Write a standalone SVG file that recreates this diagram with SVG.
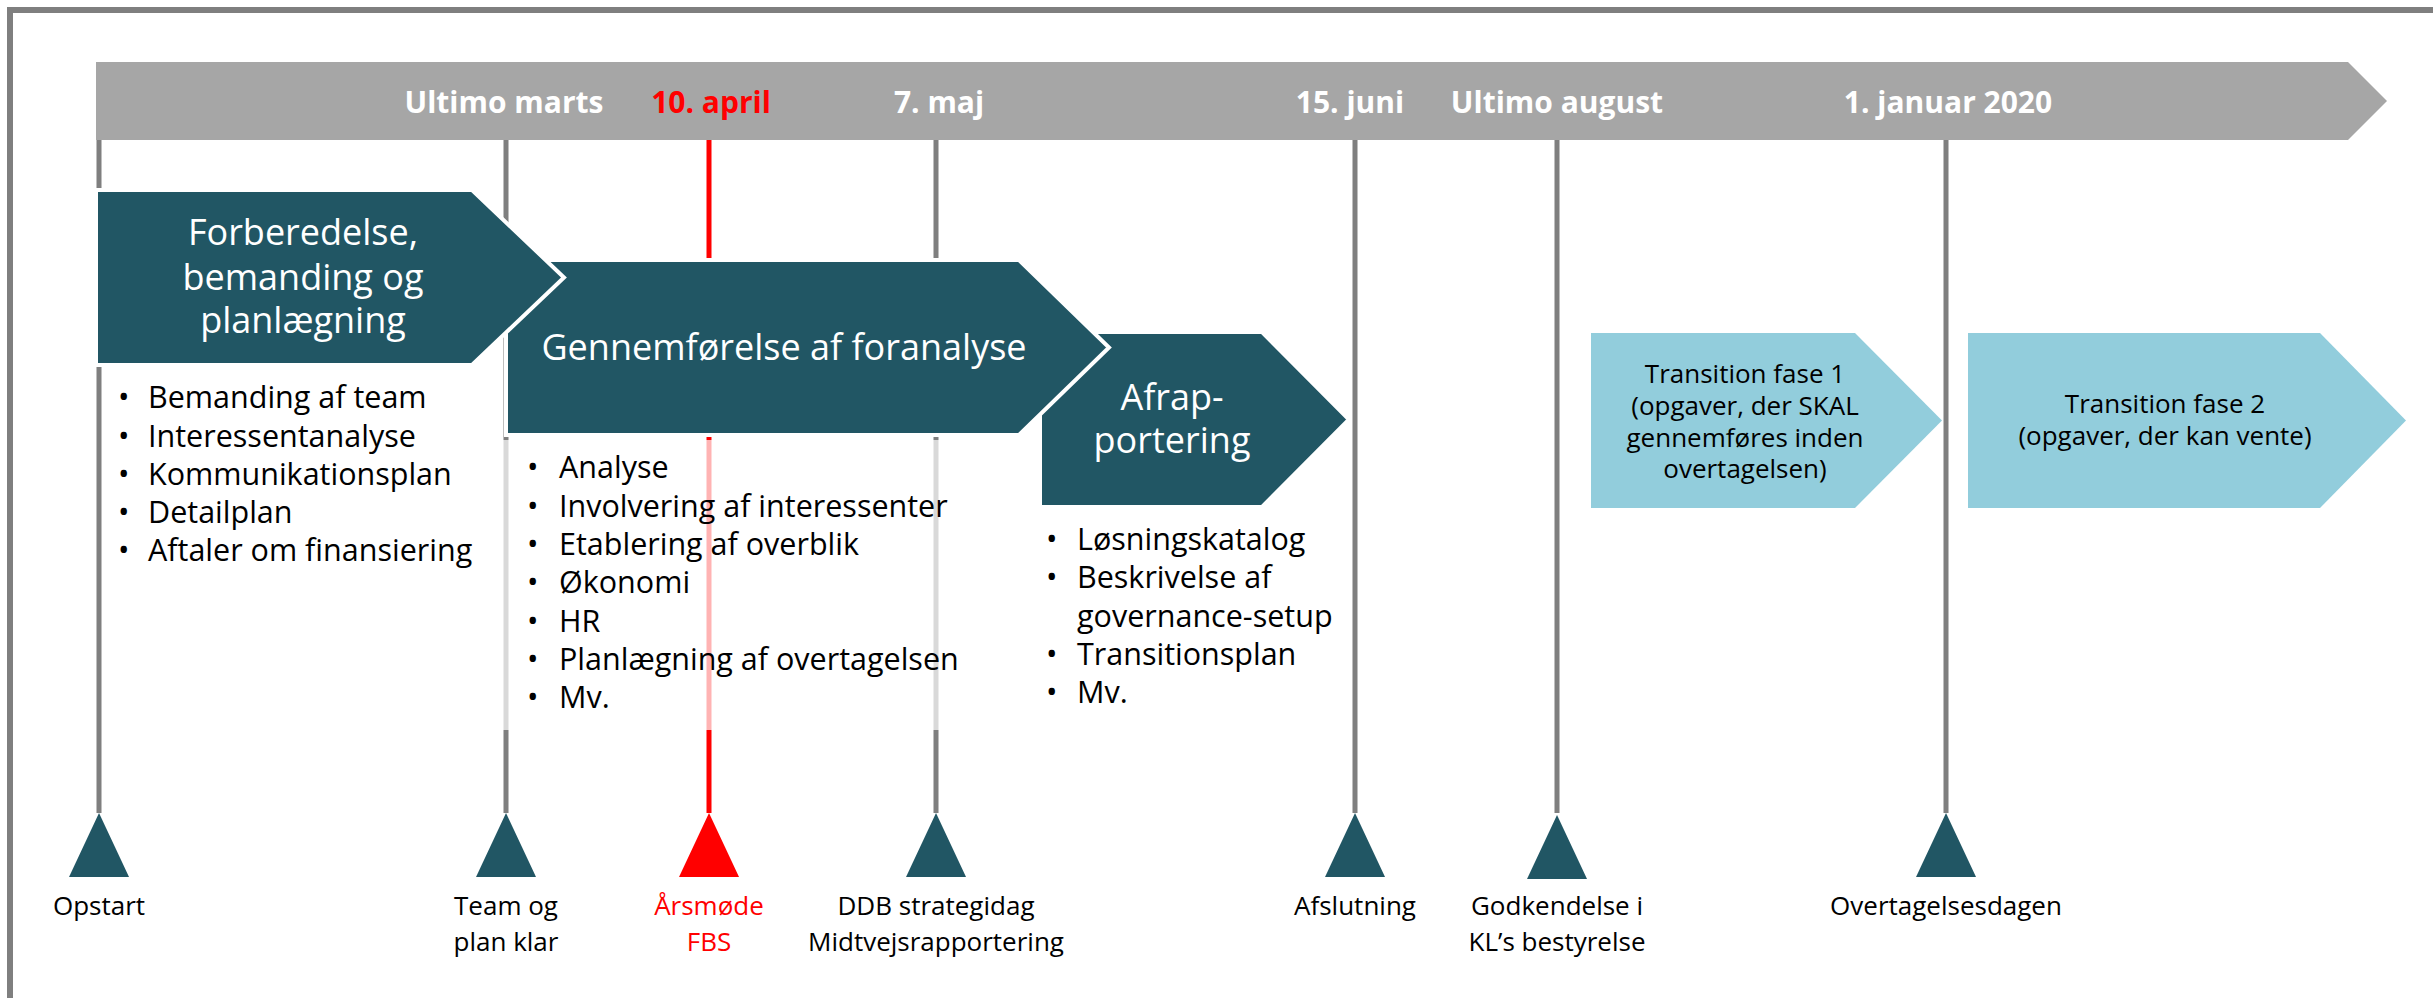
<svg xmlns="http://www.w3.org/2000/svg" width="2433" height="998" viewBox="0 0 2433 998">
<style>
text{font-family:"Open Sans","Liberation Sans",sans-serif}
.date{font-size:30px;font-weight:bold;fill:#fff;text-anchor:middle}
.ph{fill:#215664;stroke:#fff;stroke-width:4}
.tr{fill:#92CDDC}
.pt{font-size:36px;fill:#fff;text-anchor:middle}
.bl{font-size:30.5px;fill:#000}
.ml{font-size:26px;fill:#000;text-anchor:middle}
.tt{font-size:26px;fill:#000;text-anchor:middle}
.vl{stroke:#7F7F7F;stroke-width:5}
.tri{fill:#215664}
</style>
<rect x="0" y="0" width="2433" height="998" fill="#fff"/>
<rect x="10" y="10" width="2460" height="1010" fill="none" stroke="#7F7F7F" stroke-width="6"/>
<g id="timeline">
<polygon points="96,62 2348,62 2387,101 2348,140 96,140" fill="#A6A6A6"/>
<text class="date" x="504" y="113">Ultimo marts</text>
<text class="date" x="711" y="113" style="fill:#FF0000">10. april</text>
<text class="date" x="939" y="113">7. maj</text>
<text class="date" x="1350" y="113">15. juni</text>
<text class="date" x="1557" y="113">Ultimo august</text>
<text class="date" x="1948" y="113">1. januar 2020</text>
</g>
<g id="connectors">
<line class="vl" x1="99" y1="140" x2="99" y2="813"/>
<line class="vl" x1="506" y1="140" x2="506" y2="813"/>
<line class="vl" x1="709" y1="140" x2="709" y2="813" style="stroke:#FF0000"/>
<line class="vl" x1="936" y1="140" x2="936" y2="813"/>
<line class="vl" x1="1355" y1="140" x2="1355" y2="813"/>
<line class="vl" x1="1557" y1="140" x2="1557" y2="813"/>
<line class="vl" x1="1946" y1="140" x2="1946" y2="813"/>
</g>
<rect x="502" y="440" width="460" height="290" fill="#fff" fill-opacity="0.7"/>
<g id="phase-afrapportering">
<path class="ph" d="M1040,332 H1262 L1349,419.5 L1262,507 H1040 Z"/>
<text class="pt" x="1172" y="410">Afrap-</text>
<text class="pt" x="1172" y="453">portering</text>
<text class="bl" x="1046" y="550">•</text><text class="bl" x="1077" y="550">Løsningskatalog</text>
<text class="bl" x="1046" y="588">•</text><text class="bl" x="1077" y="588">Beskrivelse af</text>
<text class="bl" x="1077" y="627">governance-setup</text>
<text class="bl" x="1046" y="665">•</text><text class="bl" x="1077" y="665">Transitionsplan</text>
<text class="bl" x="1046" y="703">•</text><text class="bl" x="1077" y="703">Mv.</text>
</g>
<g id="phase-gennemfoerelse">
<path class="ph" d="M506,260 H1019 L1109,347.5 L1019,435 H506 Z"/>
<text class="pt" x="784" y="360">Gennemførelse af foranalyse</text>
<text class="bl" x="527" y="478">•</text><text class="bl" x="559" y="478">Analyse</text>
<text class="bl" x="527" y="517">•</text><text class="bl" x="559" y="517">Involvering af interessenter</text>
<text class="bl" x="527" y="555">•</text><text class="bl" x="559" y="555">Etablering af overblik</text>
<text class="bl" x="527" y="593">•</text><text class="bl" x="559" y="593">Økonomi</text>
<text class="bl" x="527" y="632">•</text><text class="bl" x="559" y="632">HR</text>
<text class="bl" x="527" y="670">•</text><text class="bl" x="559" y="670">Planlægning af overtagelsen</text>
<text class="bl" x="527" y="708">•</text><text class="bl" x="559" y="708">Mv.</text>
</g>
<g id="phase-forberedelse">
<path class="ph" d="M96,190 H472 L564,277.5 L472,365 H96 Z"/>
<text class="pt" x="303" y="245">Forberedelse,</text>
<text class="pt" x="303" y="290">bemanding og</text>
<text class="pt" x="303" y="333">planlægning</text>
<text class="bl" x="118" y="408">•</text><text class="bl" x="148" y="408">Bemanding af team</text>
<text class="bl" x="118" y="447">•</text><text class="bl" x="148" y="447">Interessentanalyse</text>
<text class="bl" x="118" y="485">•</text><text class="bl" x="148" y="485">Kommunikationsplan</text>
<text class="bl" x="118" y="523">•</text><text class="bl" x="148" y="523">Detailplan</text>
<text class="bl" x="118" y="561">•</text><text class="bl" x="148" y="561">Aftaler om finansiering</text>
</g>
<g id="phase-transition1">
<path class="tr" d="M1591,333 H1855 L1942,420.5 L1855,508 H1591 Z"/>
<text class="tt" x="1745" y="383">Transition fase 1</text>
<text class="tt" x="1745" y="415">(opgaver, der SKAL</text>
<text class="tt" x="1745" y="447">gennemføres inden</text>
<text class="tt" x="1745" y="478">overtagelsen)</text>
</g>
<g id="phase-transition2">
<path class="tr" d="M1968,333 H2320 L2406,420.5 L2320,508 H1968 Z"/>
<text class="tt" x="2165" y="413">Transition fase 2</text>
<text class="tt" x="2165" y="445">(opgaver, der kan vente)</text>
</g>
<g id="ms-opstart">
<polygon class="tri" points="99,813 129,877 69,877"/>
<text class="ml" x="99" y="915">Opstart</text>
</g>
<g id="ms-team">
<polygon class="tri" points="506,813 536,877 476,877"/>
<text class="ml" x="506" y="915">Team og</text>
<text class="ml" x="506" y="951">plan klar</text>
</g>
<g id="ms-aarsmoede">
<polygon points="709,813 739,877 679,877" fill="#FF0000"/>
<text class="ml" x="709" y="915" style="fill:#FF0000">Årsmøde</text>
<text class="ml" x="709" y="951" style="fill:#FF0000">FBS</text>
</g>
<g id="ms-ddb">
<polygon class="tri" points="936,813 966,877 906,877"/>
<text class="ml" x="936" y="915">DDB strategidag</text>
<text class="ml" x="936" y="951">Midtvejsrapportering</text>
</g>
<g id="ms-afslutning">
<polygon class="tri" points="1355,813 1385,877 1325,877"/>
<text class="ml" x="1355" y="915">Afslutning</text>
</g>
<g id="ms-godkendelse">
<polygon class="tri" points="1557,815 1587,879 1527,879"/>
<text class="ml" x="1557" y="915">Godkendelse i</text>
<text class="ml" x="1557" y="951">KL’s bestyrelse</text>
</g>
<g id="ms-overtagelse">
<polygon class="tri" points="1946,813 1976,877 1916,877"/>
<text class="ml" x="1946" y="915">Overtagelsesdagen</text>
</g>
</svg>
